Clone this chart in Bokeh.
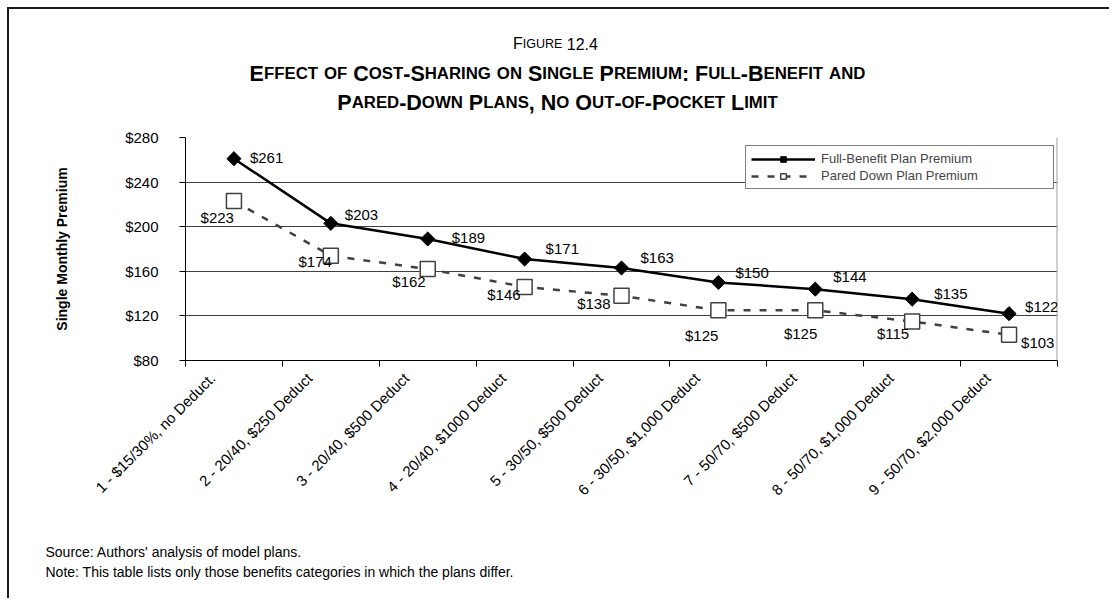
import math
from bokeh.plotting import figure
from bokeh.layouts import column
from bokeh.models import (Range1d, FixedTicker, NumeralTickFormatter, LabelSet,
                          ColumnDataSource, Legend, LegendItem, Span)
from bokeh.core.properties import value
from bokeh.embed import file_html
from bokeh.resources import INLINE

# ---------------- data ----------------
categories = [
    "1 - $15/30%, no Deduct.",
    "2 - 20/40, $250 Deduct",
    "3 - 20/40, $500 Deduct",
    "4 - 20/40, $1000 Deduct",
    "5 - 30/50, $500 Deduct",
    "6 - 30/50, $1,000 Deduct",
    "7 - 50/70, $500 Deduct",
    "8 - 50/70, $1,000 Deduct",
    "9 - 50/70, $2,000 Deduct",
]
full_benefit = [261, 203, 189, 171, 163, 150, 144, 135, 122]
pared_down = [223, 174, 162, 146, 138, 125, 125, 115, 103]
y_ticks = [80, 120, 160, 200, 240, 280]
series_names = ["Full-Benefit Plan Premium", "Pared Down Plan Premium"]
title_lines = [
    "Figure 12.4",
    "Effect of Cost-Sharing on Single Premium: Full-Benefit and",
    "Pared-Down Plans, No Out-of-Pocket Limit",
]
y_title = "Single Monthly Premium"
notes = [
    "Source: Authors' analysis of model plans.",
    "Note: This table lists only those benefits categories in which the plans differ.",
]

# label placement (pixel offsets, style only)
full_dx = [16, 14, 24, 21, 19, 17, 18, 22, 16]
full_dy = [1, 9, 1, 11, 10, 10, 13, 6, 7]
pared_dx = [0, 1, -2, -4, -11, 0, 2, -3, 12]
pared_dy = [-16, -6, -12, -8, -8, -25, -23, -12, -8]
pared_align = ["right"] * 8 + ["left"]

# ---------------- layout (page pixels) ----------------
ORIGIN = 9            # content origin after css margin + border
W = 1100
HEAD_B = 120          # header bottom (page y)
MAIN_B = 530          # main figure bottom (page y)
FOOT_B = 598          # footer bottom (page y)
FL, FR, FT, FB = 185, 1057, 137, 360
FONT = "Liberation Sans"
LABEL_SHIFT = 0.22    # category tick-label anchor shift (style)


def bare_figure(height):
    f = figure(width=W, height=height, x_range=Range1d(0, W), y_range=Range1d(height, 0),
               output_backend="svg", toolbar_location=None, title=None,
               x_axis_type=None, y_axis_type=None, min_border=0,
               background_fill_color="white", border_fill_color="white")
    f.outline_line_color = None
    f.grid.visible = False
    f.frame_align = False
    return f


# ---------------- header with small-caps title ----------------
REG_W = dict(A=667, B=667, C=722, D=722, E=667, F=611, G=778, H=722, I=278, J=500, K=667, L=556,
             M=833, N=722, O=778, P=667, Q=778, R=722, S=667, T=611, U=722, V=667, W=944, X=667,
             Y=667, Z=611)
REG_W.update({" ": 278, ".": 278, ",": 278, ":": 278, "-": 333})
REG_W.update({d: 556 for d in "0123456789"})
BOLD_W = dict(A=722, B=722, C=722, D=722, E=667, F=611, G=778, H=722, I=278, J=556, K=722, L=611,
              M=833, N=722, O=778, P=667, Q=778, R=722, S=667, T=611, U=722, V=667, W=944, X=667,
              Y=667, Z=611)
BOLD_W.update({" ": 278, ".": 278, ",": 278, ":": 333, "-": 333})
BOLD_W.update({d: 556 for d in "0123456789"})

head_h = HEAD_B - ORIGIN
hx, hy, ht, hs, hst = [], [], [], [], []


def add_smallcaps(text, cx, baseline, size, ratio, bold):
    table = BOLD_W if bold else REG_W
    pieces = []
    for ch in text:
        if ch == " ":
            pieces.append([None, True])
            continue
        big = not ch.islower()
        if pieces and pieces[-1][0] is not None and pieces[-1][1] == big:
            pieces[-1][0] += ch.upper()
        else:
            pieces.append([ch.upper(), big])
    widths = []
    for s, big in pieces:
        chars = " " if s is None else s
        sz = size if big else size * ratio
        widths.append(sum(table.get(c, 600) for c in chars) / 1000 * sz)
    x = cx - sum(widths) / 2
    for (s, big), w in zip(pieces, widths):
        if s is not None:
            sz = size if big else size * ratio
            hx.append(x - ORIGIN)
            hy.append(baseline - ORIGIN)
            ht.append(s)
            hs.append(f"{sz:.1f}px")
            hst.append("bold" if bold else "normal")
        x += w


add_smallcaps(title_lines[0], 555, 43, 16, 0.78, False)
add_smallcaps(title_lines[1], 557, 73, 21.5, 0.78, True)
add_smallcaps(title_lines[2], 557, 102, 21.5, 0.78, True)

header = bare_figure(head_h)
header.text(x="x", y="y", text="text",
            source=ColumnDataSource(dict(x=hx, y=hy, text=ht, size=hs, style=hst)),
            text_font=value(FONT), text_font_size="size", text_font_style="style",
            text_align="left", text_baseline="alphabetic", text_color="black")

# ---------------- main chart ----------------
main_h = MAIN_B - HEAD_B
X0, X1 = 0.5, len(categories) + 0.5
Y0, Y1 = y_ticks[0], y_ticks[-1]

p = figure(width=W, height=main_h, x_range=Range1d(X0, X1), y_range=Range1d(Y0, Y1),
           output_backend="svg", toolbar_location=None, title=None,
           min_border_left=FL - ORIGIN, min_border_right=ORIGIN + W - FR,
           min_border_top=FT - HEAD_B, min_border_bottom=MAIN_B - FB,
           background_fill_color="white", border_fill_color="white")
p.outline_line_color = None
p.frame_align = False

xs = list(range(1, len(categories) + 1))
label_pos = [x - LABEL_SHIFT for x in xs]
p.xaxis.ticker = FixedTicker(ticks=label_pos, minor_ticks=[x - 0.5 for x in xs] + [xs[-1] + 0.5])
p.xaxis.major_label_overrides = {t: c for t, c in zip(label_pos, categories)}
p.xaxis.major_label_orientation = math.pi / 4
p.xaxis.major_tick_out = 0
p.xaxis.major_tick_in = 0
p.xaxis.minor_tick_out = 6
p.xaxis.minor_tick_in = 0
p.xaxis.minor_tick_line_color = "black"
p.xaxis.axis_line_color = "black"
p.xaxis.major_label_text_font = FONT
p.xaxis.major_label_text_font_size = "15px"
p.xaxis.major_label_text_color = "black"
p.xaxis.major_label_standoff = 9

p.yaxis.ticker = FixedTicker(ticks=y_ticks)
p.yaxis.formatter = NumeralTickFormatter(format="$0,0")
p.yaxis.major_tick_out = 6
p.yaxis.major_tick_in = 0
p.yaxis.minor_tick_out = 0
p.yaxis.minor_tick_in = 0
p.yaxis.axis_line_color = "black"
p.yaxis.major_tick_line_color = "black"
p.yaxis.major_label_text_font = FONT
p.yaxis.major_label_text_font_size = "15px"
p.yaxis.major_label_text_color = "black"
p.yaxis.major_label_standoff = 21
p.yaxis.axis_label = y_title
p.yaxis.axis_label_text_font = FONT
p.yaxis.axis_label_text_font_style = "bold"
p.yaxis.axis_label_text_font_size = "14px"
p.yaxis.axis_label_text_color = "black"
p.yaxis.axis_label_standoff = 52

p.xgrid.visible = False
p.ygrid.grid_line_color = "#404040"
p.ygrid.grid_line_width = 1

p.add_layout(Span(location=X1, dimension="height", line_color="#a0a0a0", line_width=2))

src = ColumnDataSource(dict(
    x=xs, full=full_benefit, pared=pared_down,
    full_text=[f"${v}" for v in full_benefit],
    pared_text=[f"${v}" for v in pared_down],
    full_dx=full_dx, full_dy=full_dy, pared_dx=pared_dx, pared_dy=pared_dy,
    pared_align=pared_align,
))

r_pl = p.line("x", "pared", source=src, line_color="#404040", line_width=2.5, line_dash="7 9")
r_pm = p.scatter("x", "pared", source=src, marker="square", size=15, fill_color="white",
                 line_color="#404040", line_width=1.5)
r_fl = p.line("x", "full", source=src, line_color="black", line_width=2.5)
r_fm = p.scatter("x", "full", source=src, marker="square", angle=math.pi / 4, size=10,
                 fill_color="black", line_color="black")

p.add_layout(LabelSet(x="x", y="full", text="full_text", source=src,
                      x_offset="full_dx", y_offset="full_dy",
                      text_font=value(FONT), text_font_size=value("15px"),
                      text_align=value("left"), text_baseline=value("middle"),
                      text_color=value("black")))
p.add_layout(LabelSet(x="x", y="pared", text="pared_text", source=src,
                      x_offset="pared_dx", y_offset="pared_dy",
                      text_font=value(FONT), text_font_size=value("15px"),
                      text_align="pared_align", text_baseline=value("middle"),
                      text_color=value("black")))

legend = Legend(items=[
    LegendItem(label=series_names[0], renderers=[r_fl, r_fm]),
    LegendItem(label=series_names[1], renderers=[r_pl, r_pm]),
], location=(745 - FL, FB - 189))
legend.label_text_font = FONT
legend.label_text_font_size = "13px"
legend.glyph_width = 64
legend.glyph_height = 14
legend.label_height = 14
legend.label_width = 227
legend.label_standoff = 6
legend.spacing = 2
legend.padding = 5
legend.margin = 0
legend.border_line_color = "black"
legend.border_line_width = 1
legend.background_fill_alpha = 1
p.add_layout(legend)

# ---------------- footer ----------------
foot_h = FOOT_B - MAIN_B
footer = bare_figure(foot_h)
footer.text(x=[45 - ORIGIN] * len(notes), y=[551 - MAIN_B, 571 - MAIN_B], text=notes,
            text_font=value(FONT), text_font_size="14px", text_align="left",
            text_baseline="middle", text_color="black")

root = column(header, p, footer, spacing=0,
              styles={"border-top": "2px solid #1a1a1a", "border-left": "2px solid #1a1a1a",
                      "margin-left": "7px", "margin-top": "7px"})

open("out.html", "w").write(file_html(root, INLINE))
